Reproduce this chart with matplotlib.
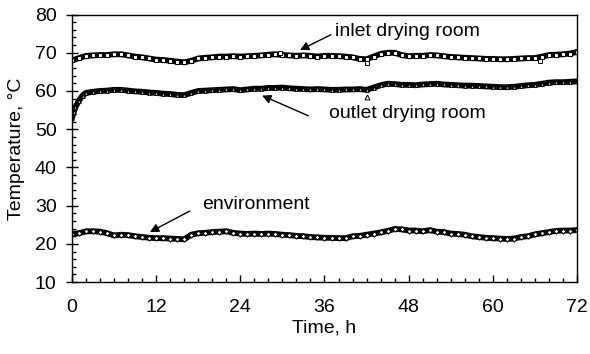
import numpy as np
import matplotlib
matplotlib.use('Agg')
import matplotlib.pyplot as plt
from matplotlib.ticker import MultipleLocator

plt.rcParams['font.family'] = ['Liberation Sans', 'DejaVu Sans']

# hourly readings over the 72 h run
hours = list(range(0, 73))

inlet = [68.0, 68.6, 69.2, 69.3, 69.4, 69.4, 69.6, 69.6, 69.3, 69.0,
         68.8, 68.5, 68.2, 68.1, 67.9, 67.7, 67.5, 67.9, 68.5, 68.7,
         68.8, 69.0, 69.0, 69.1, 69.0, 69.1, 69.2, 69.3, 69.5, 69.6,
         69.4, 69.3, 69.2, 69.3, 69.2, 69.0, 69.2, 69.2, 69.1, 69.0,
         68.8, 68.4, 68.3, 69.0, 69.7, 70.0, 70.0, 69.4, 69.1, 69.2,
         69.2, 69.4, 69.3, 69.1, 68.9, 68.8, 68.7, 68.6, 68.5, 68.4,
         68.4, 68.3, 68.3, 68.4, 68.5, 68.6, 68.6, 69.0, 69.4, 69.5,
         69.6, 69.8, 70.2]

# outlet has a few extra readings during the start-up ramp
outlet_t = [0, 0.25, 0.5, 1, 1.5] + list(range(2, 73))
outlet = [53.0, 54.5, 55.8, 57.5, 58.8,
          59.5, 59.8, 60.0, 60.1, 60.3, 60.3, 60.1, 59.9, 59.8, 59.6,
          59.5, 59.3, 59.2, 59.0, 58.9, 59.5, 60.0, 60.1, 60.2, 60.3,
          60.4, 60.5, 60.2, 60.4, 60.6, 60.6, 60.8, 60.8, 60.9, 60.7,
          60.6, 60.5, 60.4, 60.5, 60.4, 60.3, 60.3, 60.4, 60.4, 60.5,
          60.3, 60.9, 61.5, 61.9, 61.8, 61.6, 61.6, 61.5, 61.7, 61.8,
          61.9, 61.7, 61.6, 61.5, 61.4, 61.4, 61.3, 61.2, 61.1, 61.0,
          61.0, 61.1, 61.3, 61.5, 61.6, 61.9, 62.2, 62.3, 62.3, 62.4,
          62.5]

environment = [22.6, 22.8, 23.3, 23.3, 23.2, 22.8, 22.2, 22.4, 22.3, 22.0,
               21.8, 21.6, 21.5, 21.5, 21.4, 21.3, 21.2, 22.4, 22.8, 22.9,
               23.1, 23.2, 23.3, 22.9, 22.7, 22.6, 22.7, 22.6, 22.7, 22.6,
               22.4, 22.3, 22.1, 22.0, 21.8, 21.7, 21.6, 21.6, 21.5, 21.5,
               22.0, 22.1, 22.4, 22.7, 23.0, 23.4, 23.9, 23.8, 23.5, 23.5,
               23.3, 23.6, 23.2, 23.1, 22.7, 22.6, 22.4, 22.0, 21.8, 21.6,
               21.5, 21.4, 21.3, 21.4, 21.8, 22.0, 22.5, 22.8, 23.1, 23.4,
               23.5, 23.5, 23.6]

# isolated off-trend readings
inlet_stray_t = [29.6, 42.0, 66.7]
inlet_stray = [70.0, 67.3, 67.8]
outlet_stray_t = [42.0]
outlet_stray = [58.4]

fig = plt.figure(figsize=(5.9, 3.54), dpi=100)
ax = fig.add_axes([0.122, 0.203, 0.856, 0.756])

style = dict(color='black', lw=4.2, ms=2.6, mfc='white', mec='black', mew=0.8)
ax.plot(hours, inlet, marker='s', **style)
ax.plot(outlet_t, outlet, marker='^', **style)
ax.plot(hours, environment, marker='D', **style)
ax.plot(inlet_stray_t, inlet_stray, ls='none', marker='s', ms=3.5,
        mfc='white', mec='black', mew=0.7)
ax.plot(outlet_stray_t, outlet_stray, ls='none', marker='^', ms=3.5,
        mfc='white', mec='black', mew=0.7)

arrow = dict(arrowstyle='-|>', color='black', lw=1.0, mutation_scale=13,
             shrinkA=0, shrinkB=0)
ax.annotate('', xy=(32.5, 70.7), xytext=(36.9, 74.7), arrowprops=arrow)
ax.text(37.5, 75.5, 'inlet drying room', fontsize=14, va='center', ha='left')
ax.annotate('', xy=(27.1, 58.8), xytext=(33.7, 53.5), arrowprops=arrow)
ax.text(36.6, 54.2, 'outlet drying room', fontsize=14, va='center', ha='left')
ax.annotate('', xy=(11.1, 23.1), xytext=(16.8, 28.6), arrowprops=arrow)
ax.text(18.5, 30.3, 'environment', fontsize=14, va='center', ha='left')

ax.set_xlim(0, 72)
ax.set_ylim(10, 80)
ax.xaxis.set_major_locator(MultipleLocator(12))
ax.xaxis.set_minor_locator(MultipleLocator(2))
ax.yaxis.set_major_locator(MultipleLocator(10))
ax.yaxis.set_minor_locator(MultipleLocator(2))
ax.tick_params(which='both', direction='in', labelsize=14, width=1.0)
ax.tick_params(which='major', length=5)
ax.tick_params(which='minor', length=3)
ax.tick_params(axis='y', which='major', direction='inout', length=8, pad=7)
ax.tick_params(axis='x', which='major', pad=12)
for s in ax.spines.values():
    s.set_linewidth(1.0)

ax.set_xlabel('Time, h', fontsize=14, labelpad=3)
ax.set_ylabel('Temperature, °C', fontsize=14, labelpad=7)

fig.savefig('out.png', dpi=100)
